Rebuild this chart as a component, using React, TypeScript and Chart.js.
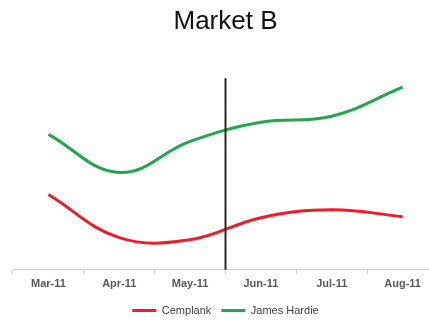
import React, { useEffect, useRef } from "react";
import { Chart, registerables } from "chart.js";

Chart.register(...registerables);

// Monthly index values for Market B
const months = ["Mar-11", "Apr-11", "May-11", "Jun-11", "Jul-11", "Aug-11"];
const cemplank = [39.3, 16.8, 15.7, 27.2, 31.4, 27.7];
const jamesHardie = [70.7, 50.8, 67.0, 77.0, 80.1, 95.3];
// Divider is drawn on the boundary after this month
const dividerAfter = "May-11";

const dividerPlugin = {
  id: "monthDivider",
  afterDatasetsDraw(chart: any) {
    const x = chart.scales.x;
    const idx = months.indexOf(dividerAfter);
    if (idx < 0) return;
    const px = x.getPixelForValue(idx + 0.5);
    const { top, bottom } = chart.chartArea;
    const ctx = chart.ctx;
    ctx.save();
    ctx.strokeStyle = "#262626";
    ctx.lineWidth = 2;
    ctx.beginPath();
    ctx.moveTo(px, top);
    ctx.lineTo(px, bottom);
    ctx.stroke();
    ctx.restore();
  },
};

export default function App() {
  const ref = useRef<HTMLCanvasElement>(null);

  useEffect(() => {
    if (!ref.current) return;
    const font = "'Liberation Sans', Arial, sans-serif";
    const chart = new Chart(ref.current, {
      type: "line",
      data: {
        labels: months,
        datasets: [
          {
            label: "Cemplank",
            data: cemplank,
            borderColor: "#ee1c25",
            backgroundColor: "#ee1c25",
            borderWidth: 3,
            pointRadius: 0,
            tension: 0.4,
            pointStyle: "line",
          },
          {
            label: "James Hardie",
            data: jamesHardie,
            borderColor: "#1fa64f",
            backgroundColor: "#1fa64f",
            borderWidth: 3,
            pointRadius: 0,
            tension: 0.4,
            pointStyle: "line",
          },
        ],
      },
      options: {
        responsive: false,
        animation: false,
        layout: { padding: { left: 13, right: 12, top: 0, bottom: 0 } },
        plugins: {
          title: {
            display: true,
            text: "Market B",
            color: "#111",
            font: { family: font, size: 26, weight: "normal" },
            padding: { top: 6, bottom: 41 },
          },
          legend: {
            position: "bottom",
            labels: {
              usePointStyle: true,
              pointStyle: "line",
              pointStyleWidth: 24,
              padding: 10,
              color: "#404040",
              font: { family: font, size: 11 },
            },
          },
          tooltip: { enabled: false },
        },
        scales: {
          x: {
            offset: true,
            border: { color: "#d0d0d0", width: 1 },
            grid: {
              offset: true,
              drawOnChartArea: false,
              drawTicks: true,
              tickLength: 4,
              color: "#d0d0d0",
            },
            ticks: {
              color: "#595959",
              padding: 4,
              maxRotation: 0,
              font: { family: font, size: 11, weight: "bold" },
            },
          },
          y: {
            display: false,
            min: 0,
            max: 100,
          },
        },
      },
      plugins: [dividerPlugin],
    });
    return () => chart.destroy();
  }, []);

  return (
    <div
      style={{
        position: "fixed",
        left: 0,
        top: 0,
        width: 429,
        height: 322,
        overflow: "hidden",
        background: "#fff",
      }}
    >
      <canvas ref={ref} width={450} height={326} />
    </div>
  );
}
